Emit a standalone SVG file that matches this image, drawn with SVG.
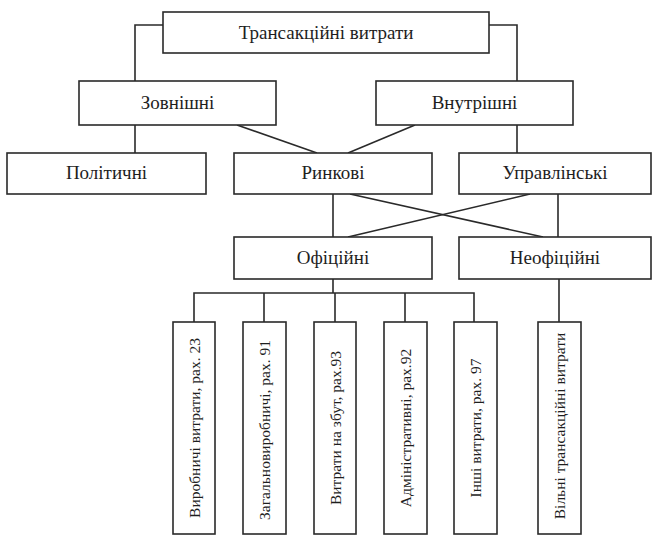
<svg xmlns="http://www.w3.org/2000/svg" width="652" height="536" viewBox="0 0 652 536">
<style>
.b { fill: #fff; stroke: #2a2a2a; stroke-width: 1.6; }
.c line, .c polyline { fill: none; stroke: #2a2a2a; stroke-width: 1.6; }
text { font-family: "Liberation Serif", "DejaVu Serif", "Times New Roman", serif; fill: #1e1e1e; text-anchor: middle; }
.h { font-size: 19px; }
.v { font-size: 15.5px; }
</style>
<rect width="652" height="536" fill="#fff"/>
<g class="c" id="connectors">
  <polyline points="163,25 135,25 135,81"/>
  <polyline points="489,25 517,25 517,81"/>
  <line x1="135" y1="125" x2="135" y2="153"/>
  <line x1="517" y1="125" x2="517" y2="153"/>
  <line x1="237" y1="125" x2="317" y2="153"/>
  <line x1="415" y1="125" x2="348" y2="153"/>
  <line x1="333" y1="194" x2="333" y2="237"/>
  <line x1="350" y1="194" x2="543" y2="237"/>
  <line x1="530" y1="194" x2="348" y2="237"/>
  <line x1="558" y1="194" x2="558" y2="237"/>
  <line x1="333" y1="279" x2="333" y2="293"/>
  <polyline points="194,322 194,293 474,293 474,322"/>
  <line x1="264" y1="293" x2="264" y2="322"/>
  <line x1="335" y1="293" x2="335" y2="322"/>
  <line x1="405" y1="293" x2="405" y2="322"/>
  <line x1="559" y1="279" x2="559" y2="322"/>
</g>
<g id="n-top"><rect class="b" x="163" y="12" width="326" height="41"/><text class="h" x="326" y="39">Трансакційні витрати</text></g>
<g id="n-zovn"><rect class="b" x="79" y="81" width="197" height="44"/><text class="h" x="177.5" y="109">Зовнішні</text></g>
<g id="n-vnutr"><rect class="b" x="376" y="81" width="197" height="44"/><text class="h" x="474.5" y="109">Внутрішні</text></g>
<g id="n-polit"><rect class="b" x="7" y="153" width="199" height="41"/><text class="h" x="106.5" y="179">Політичні</text></g>
<g id="n-rynk"><rect class="b" x="234" y="153" width="198" height="41"/><text class="h" x="333" y="179">Ринкові</text></g>
<g id="n-uprav"><rect class="b" x="459" y="153" width="192" height="41"/><text class="h" x="555" y="179">Управлінські</text></g>
<g id="n-ofic"><rect class="b" x="234" y="237" width="198" height="42"/><text class="h" x="333" y="264">Офіційні</text></g>
<g id="n-neofic"><rect class="b" x="459" y="237" width="192" height="42"/><text class="h" x="555" y="264">Неофіційні</text></g>
<g id="n-v1"><rect class="b" x="173" y="322" width="42" height="212"/><text class="v" transform="translate(194,428) rotate(-90)" y="5.5">Виробничі витрати, рах. 23</text></g>
<g id="n-v2"><rect class="b" x="243" y="322" width="43" height="212"/><text class="v" transform="translate(264.5,430) rotate(-90)" y="5.5">Загальновиробничі, рах. 91</text></g>
<g id="n-v3"><rect class="b" x="314" y="322" width="42" height="212"/><text class="v" transform="translate(335,428) rotate(-90)" y="5.5">Витрати на збут, рах.93</text></g>
<g id="n-v4"><rect class="b" x="384" y="322" width="43" height="212"/><text class="v" transform="translate(405.5,428) rotate(-90)" y="5.5">Адміністративні, рах.92</text></g>
<g id="n-v5"><rect class="b" x="454" y="322" width="43" height="212"/><text class="v" transform="translate(475.5,428) rotate(-90)" y="5.5">Інші витрати, рах. 97</text></g>
<g id="n-v6"><rect class="b" x="538" y="322" width="43" height="212"/><text class="v" transform="translate(559.5,426) rotate(-90)" y="5.5">Вільні трансакційні витрати</text></g>
</svg>
